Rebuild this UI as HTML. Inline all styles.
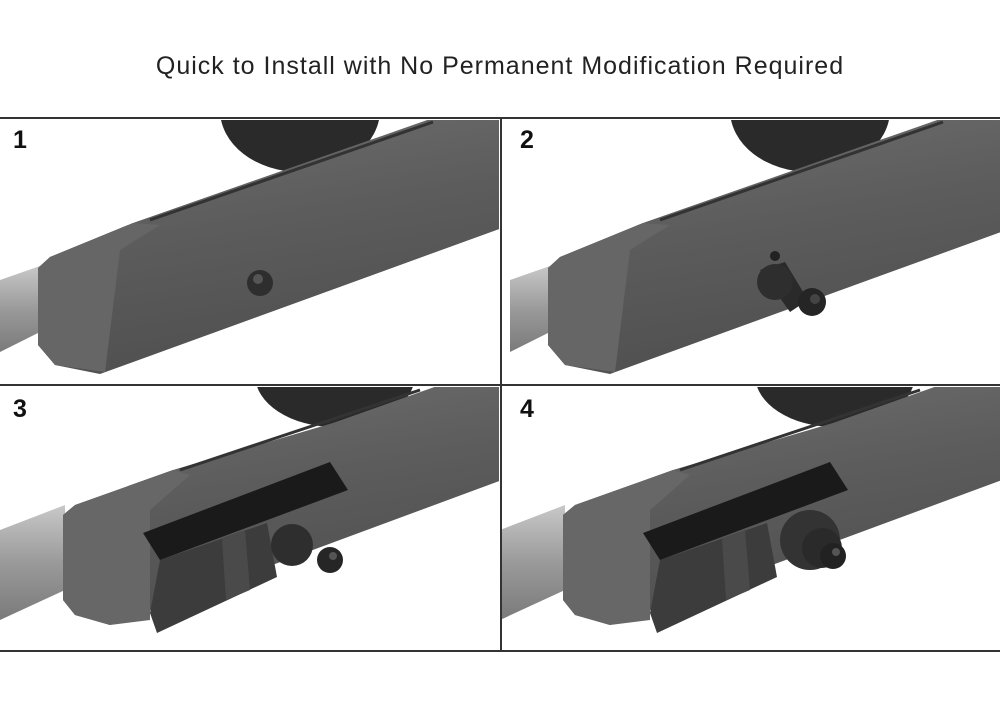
<!DOCTYPE html>
<html><head><meta charset="utf-8"><style>
html,body{margin:0;padding:0;background:#fff;width:1000px;height:714px;overflow:hidden}
svg{display:block}
</style></head><body>
<svg width="1000" height="714" viewBox="0 0 1000 714" xmlns="http://www.w3.org/2000/svg">
<defs>
<linearGradient id="st" x1="0" y1="0" x2="0.3" y2="1">
<stop offset="0" stop-color="#6e6e6e"/><stop offset="0.5" stop-color="#5c5c5c"/><stop offset="1" stop-color="#505050"/>
</linearGradient>
<linearGradient id="br" x1="0" y1="0" x2="0" y2="1">
<stop offset="0" stop-color="#c8c8c8"/><stop offset="0.5" stop-color="#9a9a9a"/><stop offset="1" stop-color="#7a7a7a"/>
</linearGradient>
<clipPath id="c1"><rect x="0" y="120" width="499" height="263"/></clipPath>
<clipPath id="c2"><rect x="502" y="120" width="498" height="263"/></clipPath>
<clipPath id="c3"><rect x="0" y="387" width="499" height="263"/></clipPath>
<clipPath id="c4"><rect x="502" y="387" width="498" height="263"/></clipPath>
<g id="p1">
<ellipse cx="300" cy="110" rx="80" ry="62" fill="#2a2a2a"/>
<polygon points="0,280 40,266 40,332 0,352" fill="url(#br)"/>
<polygon points="38,268 50,257 133,223 433,118 502,118 502,228 100,374 55,365 38,345" fill="url(#st)"/>
<polygon points="38,268 50,257 133,223 160,225 120,250 105,372 55,365 38,345" fill="#666"/>
<polyline points="150,220 433,122" stroke="#333" stroke-width="3" fill="none"/>
</g>
<g id="p3">
<ellipse cx="335" cy="375" rx="80" ry="52" fill="#2a2a2a"/>
<polygon points="0,530 65,505 65,590 0,620" fill="url(#br)"/>
<polygon points="63,515 75,505 173,470 333,423 440,385 502,385 502,480 110,625 75,615 63,600" fill="url(#st)"/>
<polygon points="63,515 75,505 173,470 190,475 150,510 150,620 110,625 75,615 63,600" fill="#676767"/>
<polyline points="180,470 420,390" stroke="#333" stroke-width="3" fill="none"/>
<polygon points="160,560 267,523 277,577 157,633 150,613" fill="#3c3c3c"/>
<polygon points="222,538 245,530 250,590 226,600" fill="#4a4a4a"/>
<polygon points="143,533 330,462 348,490 160,560" fill="#1a1a1a"/>
</g>
</defs>
<text x="500" y="74" text-anchor="middle" font-family="Liberation Sans, sans-serif" font-size="25" letter-spacing="1" fill="#222">Quick to Install with No Permanent Modification Required</text>
<g clip-path="url(#c1)"><use href="#p1"/><circle cx="260" cy="283" r="13" fill="#2e2e2e"/><circle cx="258" cy="279" r="5" fill="#555"/></g>
<g clip-path="url(#c2)"><use href="#p1" transform="translate(510,0)"/>
<circle cx="775" cy="256" r="5" fill="#222"/>
<polygon points="760,270 785,262 808,300 790,312" fill="#2a2a2a"/>
<circle cx="775" cy="282" r="18" fill="#2e2e2e"/><circle cx="812" cy="302" r="14" fill="#252525"/><circle cx="815" cy="299" r="5" fill="#444"/></g>
<g clip-path="url(#c3)"><use href="#p3"/>
<circle cx="292" cy="545" r="21" fill="#2e2e2e"/><circle cx="330" cy="560" r="13" fill="#262626"/><circle cx="333" cy="556" r="4" fill="#555"/></g>
<g clip-path="url(#c4)"><use href="#p3" transform="translate(500,0)"/>
<circle cx="810" cy="540" r="30" fill="#333"/><circle cx="822" cy="548" r="20" fill="#2a2a2a"/><circle cx="833" cy="556" r="13" fill="#222"/><circle cx="836" cy="552" r="4" fill="#555"/></g>
<g font-family="Liberation Sans, sans-serif" font-weight="bold" font-size="25" fill="#111">
<text x="13" y="148">1</text><text x="520" y="148">2</text><text x="13" y="417">3</text><text x="520" y="417">4</text>
</g>
<g stroke="#333" stroke-width="2" fill="none">
<line x1="0" y1="118" x2="1000" y2="118"/>
<line x1="0" y1="385" x2="1000" y2="385"/>
<line x1="0" y1="651" x2="1000" y2="651"/>
<line x1="501" y1="118" x2="501" y2="651"/>
</g>
</svg>
</body></html>
